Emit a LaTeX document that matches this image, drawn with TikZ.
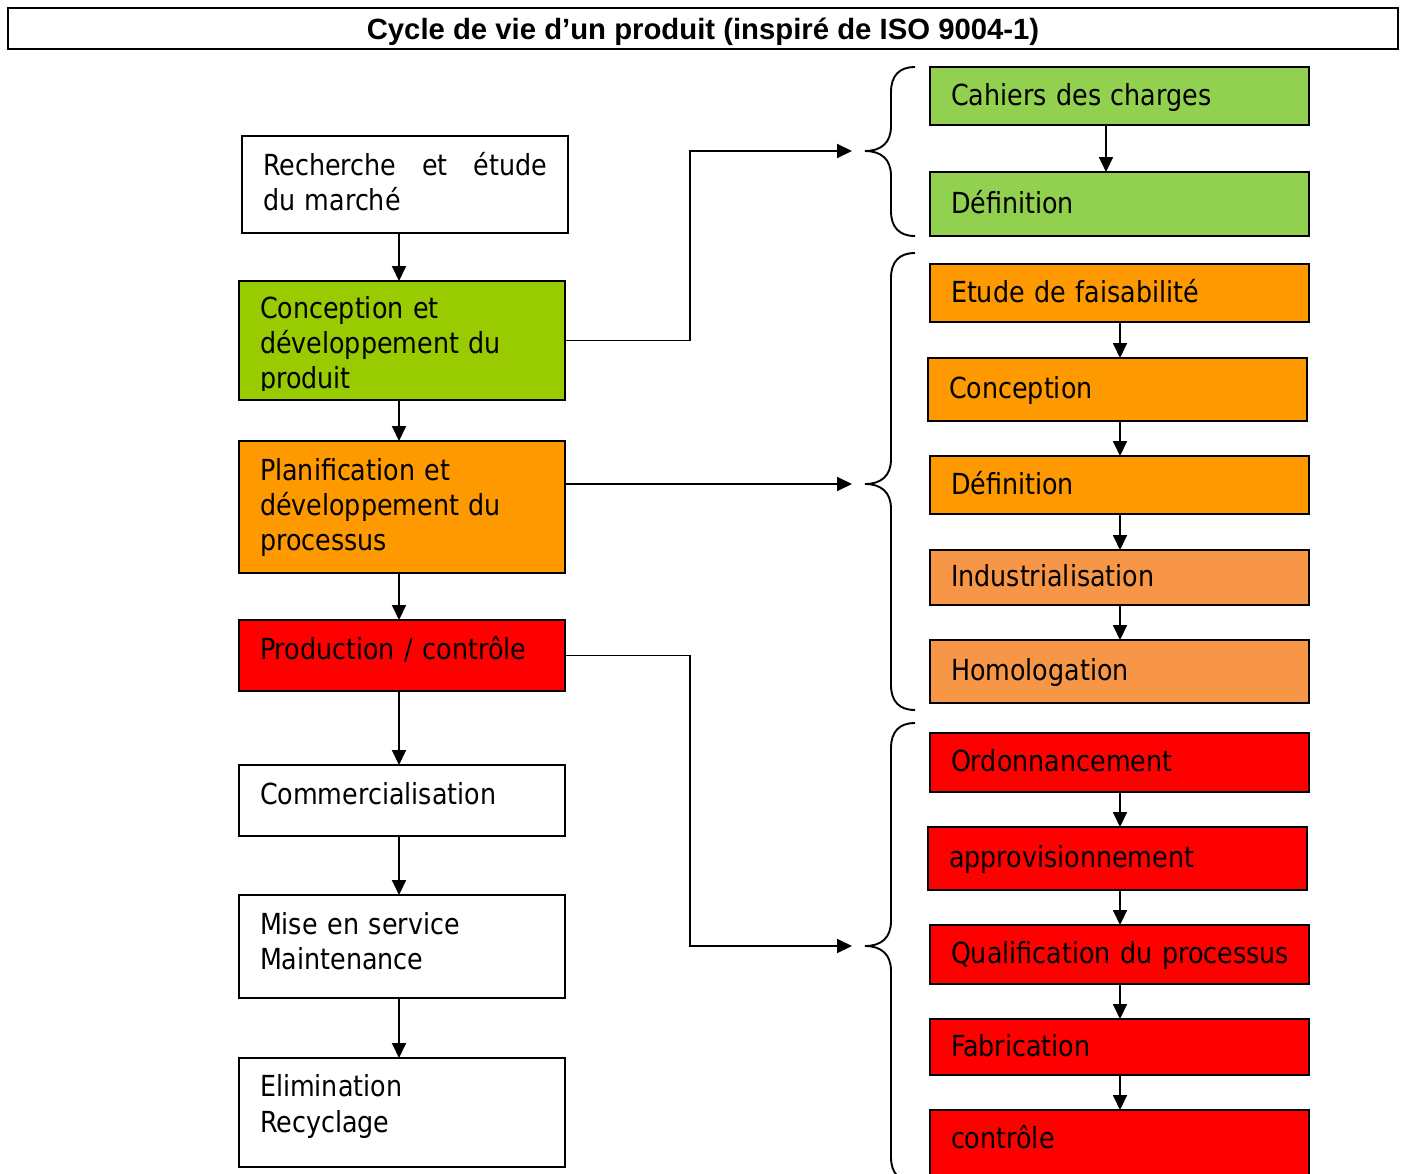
\documentclass[tikz,border=0pt]{standalone}
\usepackage{fontspec}
\usetikzlibrary{arrows.meta}
\newfontfamily\corps{DejaVu Sans}[FakeStretch=0.875]
\newfontfamily\titrefont{Liberation Sans}
\definecolor{vertprod}{RGB}{153,204,0}
\definecolor{vertcdc}{RGB}{146,208,80}
\definecolor{orangeprod}{RGB}{255,153,0}
\definecolor{orangeclair}{RGB}{247,150,70}
\definecolor{rougeprod}{RGB}{255,0,0}
\hyphenpenalty=10000

\begin{document}
\begin{tikzpicture}[x=1pt,y=-1pt,
    etape/.style={draw,line width=1.8pt,inner xsep=21pt,inner ysep=0pt,outer sep=0pt,
        align=left,font=\corps\fontsize{29}{35.3}\selectfont},
    fleche/.style={-{Triangle[length=15pt,width=14pt]},line width=1.9pt},
    trait/.style={line width=1.9pt}]
        \useasboundingbox (0,0) rectangle (1402,1173);

        % titre
        \node[draw,line width=1.8pt,minimum width=1390pt,minimum height=41pt,inner sep=0pt,outer sep=0pt,
            text height=21pt,text depth=0pt,font=\titrefont\bfseries\fontsize{29.3}{33}\selectfont]
            (titre) at (703,28.5) {Cycle de vie d’un produit (inspiré de ISO 9004-1)};

        % colonne de gauche
        \node[etape,minimum width=326pt,minimum height=97pt,text width=284pt,
            text height=20pt,text depth=39pt,anchor=north west] (rech) at (242,136)
            {Recherche\hfill et\hfill étude\\du marché};
        \node[etape,fill=vertprod,minimum width=326pt,minimum height=119pt,anchor=north west] (conc) at (239,281) {};
        \begin{scope}
            \clip (239,281) rectangle (565,390);
            \node[etape,draw=none,text width=284pt,text height=20pt,text depth=64.4pt] (conctxt) at (conc)
                {Conception et\\développement du\\produit};
        \end{scope}
        \node[etape,fill=orangeprod,minimum width=326pt,minimum height=132pt,text width=284pt,
            text height=20pt,text depth=74pt,anchor=north west] (plan) at (239,441)
            {Planification et\\développement du\\processus};
        \node[etape,fill=rougeprod,minimum width=326pt,minimum height=71pt,text width=284pt,
            text height=20pt,text depth=12.4pt,anchor=north west] (prod) at (239,620)
            {Production / contrôle};
        \node[etape,minimum width=326pt,minimum height=71pt,text width=284pt,
            text height=20pt,text depth=13pt,anchor=north west] (comm) at (239,765)
            {Commercialisation};
        \node[etape,minimum width=326pt,minimum height=103pt,text width=284pt,
            text height=20pt,text depth=44.4pt,anchor=north west] (mes) at (239,895)
            {Mise en service\\Maintenance};
        \node[etape,minimum width=326pt,minimum height=109pt,text width=284pt,
            text height=20pt,text depth=51.6pt,anchor=north west] (elim) at (239,1058)
            {Elimination\\Recyclage};

        \coordinate (axeg) at (399,0);
        \foreach \a/\b in {rech/conc,conc/plan,plan/prod,prod/comm,comm/mes,mes/elim} {
            \draw[fleche] (\a.south -| axeg) -- (\b.north -| axeg);
        }

        % colonne de droite
        \foreach \nom/\xg/\yh/\yb/\coul/\prof/\txt in {
            cdc/930/67/125/vertcdc/2/Cahiers des charges,
            defa/930/172/236/vertcdc/2/Définition,
            etude/930/264/322/orangeprod/2/Etude de faisabilité,
            concp/928/358/421/orangeprod/2/Conception,
            defb/930/456/514/orangeprod/2/Définition,
            indus/930/550/605/orangeclair/2/Industrialisation,
            homol/930/640/703/orangeclair/2/Homologation,
            ordo/930/733/792/rougeprod/2/Ordonnancement,
            appro/928/827/890/rougeprod/2/approvisionnement,
            qualif/930/925/984/rougeprod/2/\mbox{Qualification du processus},
            fabr/930/1019/1075/rougeprod/2/Fabrication,
            ctrl/930/1110/1190/rougeprod/23.5/contrôle} {
            \node[etape,fill=\coul,minimum width=379pt,minimum height=\yb-\yh,text width=337pt,
                text height=20pt,text depth=\prof pt,anchor=north west] (\nom) at (\xg,\yh) {\txt};
        }
        \foreach \a/\b/\x in {cdc/defa/1106,etude/concp/1120,concp/defb/1120,defb/indus/1120,
            indus/homol/1120,ordo/appro/1120,appro/qualif/1120,qualif/fabr/1120,fabr/ctrl/1120} {
            \draw[fleche] (\a.south -| \x,0) -- (\b.north -| \x,0);
        }

        % accolades
        \foreach \t/\m/\b in {67/151/236,253/484/710,723/946/1182} {
            \draw[trait] (915,\t) .. controls (899,\t) and (891,\t+9) .. (891,\t+25)
                -- (891,\m-25) .. controls (891,\m-8) and (881,\m) .. (865,\m)
                .. controls (881,\m) and (891,\m+8) .. (891,\m+25)
                -- (891,\b-25) .. controls (891,\b-9) and (899,\b) .. (915,\b);
        }
        \coordinate (pointe1) at (852,151);
        \coordinate (pointe2) at (852,484);
        \coordinate (pointe3) at (852,946);
        \draw[fleche] (conc.east) -- ++(125,0) |- (pointe1);
        \draw[fleche] (plan.east |- pointe2) -- (pointe2);
        \draw[fleche] (prod.east) -- ++(125,0) |- (pointe3);
    \end{tikzpicture}
\end{document}
